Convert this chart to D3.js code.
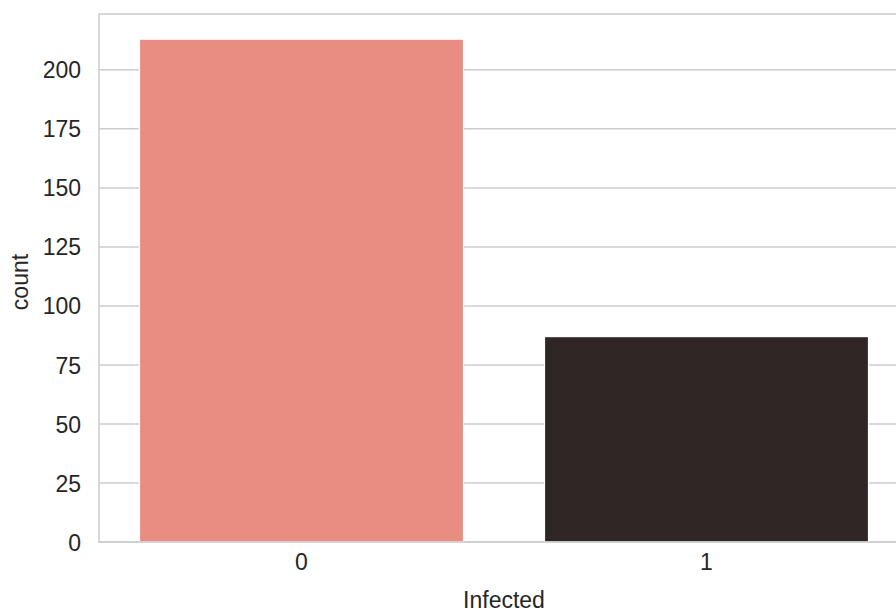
<!DOCTYPE html>
<html>
<head>
<meta charset="utf-8">
<script src="https://cdn.jsdelivr.net/npm/d3@7/dist/d3.min.js"></script>
<style>
  html, body { margin: 0; padding: 0; background: #ffffff; overflow: hidden; }
  svg { display: block; }
  text { font-family: Arial, "Liberation Sans", Helvetica, sans-serif; fill: #262626; }
</style>
</head>
<body>
<svg id="chart" width="896" height="612"></svg>
<script>
const categories = ["0", "1"];
const counts = [213, 87];
const barColors = ["#E98D83", "#2F2726"];
const yTicks = [0, 25, 50, 75, 100, 125, 150, 175, 200];
const xLabel = "Infected";
const yLabel = "count";

const svg = d3.select("#chart");
const margin = { left: 99, top: 14, right: 909, bottom: 542 };
const fontSize = 23;

const x = d3.scaleBand()
  .domain(categories)
  .range([margin.left, margin.right])
  .paddingInner(0.2)
  .paddingOuter(0.1);

const yMax = d3.max(counts) * 1.05;
const y = d3.scaleLinear().domain([0, yMax]).range([margin.bottom, margin.top]);

const gridColor = "#cccccc";

// gridlines
svg.append("g")
  .selectAll("line")
  .data(yTicks)
  .join("line")
  .attr("x1", margin.left)
  .attr("x2", margin.right)
  .attr("y1", d => y(d))
  .attr("y2", d => y(d))
  .attr("stroke", gridColor)
  .attr("stroke-width", 1.5);

// bars
svg.append("g")
  .selectAll("rect")
  .data(categories)
  .join("rect")
  .attr("x", d => x(d))
  .attr("width", x.bandwidth())
  .attr("y", (d, i) => y(counts[i]))
  .attr("height", (d, i) => y(0) - y(counts[i]))
  .attr("fill", (d, i) => barColors[i])
  .attr("stroke", "#ffffff")
  .attr("stroke-width", 1.2);

// y axis
const yAxis = d3.axisLeft(y).tickValues(yTicks).tickSize(0).tickPadding(18);
const gy = svg.append("g").attr("transform", `translate(${margin.left},0)`).call(yAxis);
gy.select(".domain").remove();
gy.selectAll("text")
  .style("font-size", fontSize + "px")
  .attr("fill", "#262626")
  .attr("dy", "0.35em");

// x axis
const xAxis = d3.axisBottom(x).tickSize(0).tickPadding(12);
const gx = svg.append("g").attr("transform", `translate(0,${margin.bottom})`).call(xAxis);
gx.select(".domain").remove();
gx.selectAll("text")
  .style("font-size", fontSize + "px")
  .attr("fill", "#262626");

// spines
svg.append("rect")
  .attr("x", margin.left)
  .attr("y", margin.top)
  .attr("width", margin.right - margin.left)
  .attr("height", margin.bottom - margin.top)
  .attr("fill", "none")
  .attr("stroke", gridColor)
  .attr("stroke-width", 1.5);

// axis labels
svg.append("text")
  .attr("x", (margin.left + margin.right) / 2)
  .attr("y", 608)
  .attr("text-anchor", "middle")
  .style("font-size", fontSize + "px")
  .text(xLabel);

svg.append("text")
  .attr("transform", `translate(28,${(margin.top + margin.bottom) / 2 + 4}) rotate(-90)`)
  .attr("text-anchor", "middle")
  .style("font-size", fontSize + "px")
  .text(yLabel);
</script>
</body>
</html>
